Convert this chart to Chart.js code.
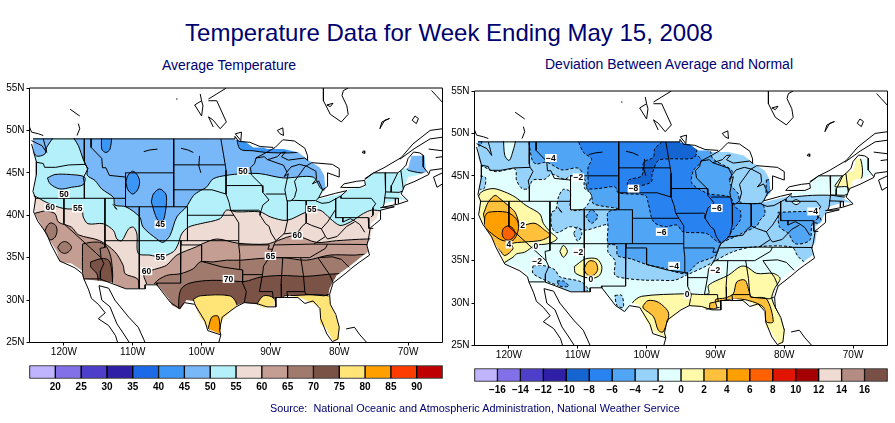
<!DOCTYPE html>
<html>
<head>
<meta charset="utf-8">
<script src="https://cdn.jsdelivr.net/npm/chart.js@4"></script>
<style>
  html, body { margin: 0; padding: 0; background: #fff; width: 895px; height: 423px; overflow: hidden; }
  canvas { position: absolute; }
  .txt { position: absolute; font-family: "Liberation Sans", Arial, sans-serif; color: #000070; white-space: pre; line-height: 1; }
</style>
</head>
<body>
<div class="txt" style="left:0;width:898px;top:21px;text-align:center;font-size:24px">Temperature Data for Week Ending May 15, 2008</div>
<div class="txt" style="left:162px;top:58px;font-size:14px">Average Temperature</div>
<div class="txt" style="left:545px;top:57px;font-size:14px">Deviation Between Average and Normal</div>
<canvas id="mapTemp" width="447" height="285" style="left:0;top:80px"></canvas>
<canvas id="mapDev" width="447" height="285" style="left:445px;top:83px"></canvas>
<canvas id="barTemp" width="447" height="40" style="left:0;top:360px"></canvas>
<canvas id="barDev" width="447" height="40" style="left:445px;top:363px"></canvas>
<div class="txt" style="left:270px;top:403px;font-size:10.85px">Source:  National Oceanic and Atmospheric Administration, National Weather Service</div>
<script>
// axis ticks
const lonTicks = [-120, -110, -100, -90, -80, -70];
const latTicks = [25, 30, 35, 40, 45, 50, 55];

// colour bars
const tempLevels = [20, 25, 30, 35, 40, 45, 50, 55, 60, 65, 70, 75, 80, 85, 90];
const tempColors = ['#c0b4ff', '#8270e8', '#4e3fca', '#2e1fa6', '#1c6ae8', '#3c96f6', '#78b8f8', '#b4f0fa',
  '#eedcd4', '#c49e92', '#a07a6c', '#7a5246', '#ffe478', '#ffa000', '#ff3c00', '#c00000'];
const devLevels = [-16, -14, -12, -10, -8, -6, -4, -2, 0, 2, 4, 6, 8, 10, 12, 14, 16];
const devColors = ['#c0b4ff', '#8270e8', '#4e3fca', '#2e1fa6', '#1464d2', '#2882f0', '#50a5f5', '#96d2fa', '#e1ffff',
  '#fffaaa', '#ffc03c', '#ffa000', '#ff6000', '#e11400', '#a50000', '#f0dcd2', '#b48c82', '#785046'];

// outline of the shaded area, lon,lat pairs
const usMask = [-124.5,49.1, -95.2,49.02, -95,48.9, -93.7,48.7, -92.5,48, -91,48, -90.5,47.8, -88.1,47.8, -85.9,47.4,
  -84.5,46.5, -82.8,45.6, -82.2,44.7, -82,43.1, -82.8,42.3, -83,41.9, -80.9,42.3, -78.9,42.7, -78.7,43.1, -76.3,43.3,
  -76,44.3, -75.3,45, -71.2,45, -71,45.5, -70,45.5, -69.5,47, -67.6,47, -67.4,45.1, -68.8,44.7, -70,44.5, -70.7,42.9,
  -71.4,42.3, -70,41.8, -71.2,41.9, -73.4,41.4, -73.8,40.8, -74.3,40.2, -74.6,39.6, -75.5,39, -75.3,38.2, -75.5,37.2,
  -76,36.6, -75.8,35.7, -76.8,35.1, -78,34.3, -79,33.7, -80.4,32.9, -81.4,31.4, -81.6,30.6, -80.9,28.8, -79.9,26.8,
  -80.1,25.3, -80.9,25.2, -82,26.8, -82.8,27.2, -82.8,29.2, -83.8,29.6, -85.7,30.3, -87.2,30.5, -89.4,30.2, -89.4,29.4,
  -91,29.1, -92,29.5, -93.9,29.7, -94.9,29.4, -95.9,28.6, -97.1,27.6, -97.3,26, -99,26.6, -100.2,28, -101.2,29.9,
  -102.2,30, -103.1,28.9, -104.3,29.4, -104.8,30.2, -106,31.4, -106.8,31.9, -108.2,31.9, -108.2,31.4, -111.4,31.4,
  -113.1,32.1, -117.2,32.5, -117.4,33.5, -118.9,34.3, -120.6,34.5, -121,35.7, -122.5,37.6, -123.7,39.4, -124.2,40.2,
  -124.4,42.3, -124.2,44.1, -124,46.1, -124.4,47];

// coasts, lakes and borders, each list one polyline of lon,lat pairs
const coastLines = [
  [-124.7,48.4, -124,46.3, -124,44.8, -124.5,42.8, -124.1,42, -124.4,40.4, -123.8,39.3, -122.5,37.8, -121.9,36.6, -120.6,34.6, -118.4,33.8, -117.3,33.1, -117.1,32.5,
   -116.4,31.2, -116,30.2, -115,29.5, -114,28.5, -115,27.8, -113.5,27, -112.5,25.8, -112.2,25],
  [-114.9,31.7, -114.5,30, -113.3,29.2, -112.3,27.2, -111.3,26, -110.5,25],
  [-114.9,31.7, -113.5,31.4, -112.6,30, -110.6,28, -109.2,26.8, -108.2,25],
  [-80.9,32, -81.4,30.7, -81.3,29.5, -80.5,28.3, -80,26.8, -80.2,25.4, -81,25.1, -81.8,26, -82.7,27.8, -82.8,29, -83.8,29.9, -85,29.6, -86,30.3, -88,30.3, -89.3,30.3, -89.2,29.2,
   -90.5,29.2, -92,29.6, -93.8,29.7, -95,29.2, -97,28, -97.4,26.5, -97.2,25.9, -97.5,25],
  [-80.9,32, -79,33.2, -78,33.9, -77,34.5, -75.6,35.3, -76,36.5, -75.8,37, -75.5,38.5, -74.9,38.9, -74,39.5, -74,40.6, -72,41, -74,40.9, -71.5,41.3, -70,41.7, -71,42.5, -70.5,43.5, -69,44, -67,44.8, -66.8,45.3, -65,45.5],
  [-65,43.7, -65.8,43.3, -66.3,44.5, -65,45],
  // great lakes
  [-92.1,46.75, -90.9,46.9, -90.4,46.55, -89,46.9, -88.4,47.4, -87.8,47.45, -88.4,46.9, -87.4,46.5, -85,46.75, -84.6,46.45, -84.6,47, -85,47.9, -86.5,48.75, -88.2,48.9, -89.3,48, -90.8,47.3, -92.1,46.75],
  [-87.6,41.7, -87,41.7, -86.5,42.1, -86.2,43, -86.5,44, -85.6,45, -85,45.7, -84.8,45.8, -85.8,46, -87,45.7, -87.6,45.1, -88,44.55, -87.4,44.9, -87.7,43.8, -87.9,43, -87.6,41.7],
  [-84.8,45.8, -83.4,45.2, -83.3,44.3, -83.9,43.7, -83,44.05, -82.4,43, -81.7,43.4, -81.7,45, -80,44.5, -80,45.5, -81,46, -84,46.2, -84.8,45.8],
  [-83.4,41.7, -82.5,41.4, -81.5,41.5, -79.8,42.25, -78.9,42.9, -80.5,42.6, -83,42.05, -83.4,41.7],
  [-83,42.05, -82.4,43],
  [-79.8,43.3, -79,43.27, -77,43.28, -76.2,43.55, -76.3,44.1, -77.5,44, -79.3,43.7, -79.8,43.3],
  // st lawrence and gulf
  [-76.3,44.2, -75,45, -73.5,45.6, -71,46.8, -69.3,48.4, -66.8,50, -65,50.2],
  [-71.2,46.6, -69,47.9, -66.8,49, -65,49.2],
  [-67,47.8, -65,47.6], [-66,46.8, -65,46.9],
  // canada
  [-82.3,55, -82.3,53.5, -81.3,51.9, -79.7,51, -78.7,51.9, -78.9,52.9, -79.6,54.1, -79.4,54.7, -78.7,55],
  [-81.8,53, -80.9,53.2, -81.3,52.8, -81.8,53],
  [-100.2,54.3, -100,53.5, -101,53, -100,51.7], [-100,53.5, -99.8,52.9, -100,51.7],
  [-99,53.7, -97.8,54.3, -96.4,55], [-99,53.5, -97.8,53.5, -96.4,51, -97.3,50.2, -98.3,51.2, -99,51.6, -98.3,50.4],
  [-95.1,49.6, -94.2,49.8, -94.3,48.8, -95.1,49.6],
  [-89,50, -88.2,50.3, -88.1,49.4, -88.6,49.6, -89,50],
  [-76.7,47.4, -76.4,47.6, -76.3,47.3, -76.7,47.4],
  [-74.1,50.2, -73.4,51.2, -72.7,51.4, -73.8,51, -74.1,50.2],
  [-69.4,51.2, -69,51.7, -68.5,51.4, -68.8,50.8, -69.4,51.2],
  [-66.6,54.7, -65.9,54.1, -65,53.3],
  [-125,50.4, -124.7,49.8, -123.7,49.6, -123,49.4], [-124.7,48.8, -123.2,48.2, -122.5,47.4, -122.8,48.4, -123,49],
  [-119.1,52.5, -117.7,51.7], [-117.9,50.8, -117.7,50.2, -118.1,49.4],
  [-103.7,53.7, -103.5,53.7],
  // dammed rivers and inland lakes
  [-108.4,47.5, -107.5,47.7, -106.4,47.8], [-103,47.9, -102,47.7, -101.2,47.4],
  [-100.3,47, -100.4,45.8, -100.1,45], [-112.9,41.3, -112.3,40.7, -112.7,41],
  // bahamas
  [-79,26.6, -77.8,26.8, -77,25.9, -76,25]
];
const stateLines = [
  [-124.5,49, -95.15,49, -95.15,49.3, -94.6,48.7, -93,48.6, -91.5,48.1, -89.6,48],
  [-124,46.25, -123,46.1, -122.8,45.65, -121.2,45.65, -119.3,45.93, -116.92,46],
  [-117.03,49, -117.04,46.4, -116.92,46, -116.5,45.5, -117.2,44.4, -117.03,43.8, -117.03,42],
  [-124.2,42, -111.05,42],
  [-120,42, -120,39, -114.6,35, -114.2,34.3, -114.7,33.4, -114.7,32.5],
  [-114.04,42, -114.04,36.2, -114.75,36.1, -114.6,35],
  [-116.05,49, -116.05,48, -114.5,46.7, -114.4,45.6, -113.9,45.6, -113.4,44.7, -111.05,44.5],
  [-111.05,45, -104.05,45],
  [-111.05,45, -111.05,41, -102.05,41],
  [-104.05,49, -104.05,41],
  [-104.05,45.94, -96.56,45.94],
  [-104.05,43, -98.5,43, -96.45,42.5],
  [-102.05,41, -102.05,40, -95.3,40],
  [-109.05,41, -109.05,31.33], [-102.05,40, -102.05,37],
  [-114.04,37, -94.6,37],
  [-103,37, -103,36.5, -100,36.5, -100,34.56, -97,33.9, -94.5,33.6, -94.45,35.4, -94.6,36.5, -94.6,39.1, -95.3,40],
  [-103,36.5, -103.05,32, -106.6,32, -106.5,31.8, -108.2,31.8, -108.2,31.33, -111,31.33, -114.8,32.5, -117.1,32.5],
  [-106.5,31.8, -104.5,29.7, -103.2,29, -102.5,29.7, -101,29.5, -99.5,27.5, -99.1,26.4, -97.2,25.9],
  [-94.5,33.6, -94.04,33.55, -94.04,32, -93.5,31, -93.8,29.7],
  [-94.04,33, -91.15,33], [-94.6,36.5, -90.15,36.5, -90.37,36, -89.7,36],
  [-89.7,36, -90.1,35.1, -91,34, -91.15,33, -91.6,31, -89.7,31, -89.6,30.2],
  [-96.45,43.5, -91.2,43.5], [-97.2,49, -96.56,45.94, -96.45,45.3, -96.45,42.5, -96,41.5, -95.77,40.58, -95.3,40],
  [-95.77,40.58, -91.7,40.6, -91.4,40.4],
  [-92.1,46.75, -92.3,46.1, -92.9,45.6, -92.75,44.75, -91.2,43.5, -91.1,42.7, -90.2,41.8, -91.1,41.2, -91.4,40.4, -91.5,40, -90.7,39, -90.2,38.7, -89.9,37.9, -89.2,37, -89.5,36.5, -89.7,36],
  [-90.65,42.5, -87.8,42.5], [-90.4,46.55, -88.1,45.9, -87.6,45.1],
  [-87.53,41.7, -87.53,39.3, -87.9,38, -88.05,37.8], [-89.2,37, -88.05,37.8, -87,37.9, -86,38, -85.4,38.7, -84.8,39.1, -84,38.8, -82.6,38.4, -81.7,39.2, -80.6,40.6],
  [-84.8,41.7, -84.8,39.1], [-87,41.76, -84.8,41.72, -83.45,41.73],
  [-80.52,42, -80.52,39.72, -75.8,39.72], [-79.76,42.25, -79.76,42, -75.35,42, -74.7,41.36, -75.1,40.9, -75.1,40, -75.4,39.8],
  [-79.48,39.72, -79.48,39.2, -78.4,39.6, -77.7,39.3, -77,38.9, -76.3,38],
  [-77.8,39.2, -78.9,38.7, -80.3,37.5, -81.7,37.2, -82,37.5], [-82.6,38.4, -82,37.5, -83.68,36.6],
  [-89.5,36.5, -83.68,36.6, -75.9,36.55], [-90.3,35, -84.3,35, -82,36.1, -81.7,36.6],
  [-83.1,35, -81,35.1, -79.7,34.8, -78.55,33.85], [-83.1,35, -81.4,33, -80.9,32.05],
  [-85.6,35, -85.2,32.9, -85,31, -84.9,30.7, -82.2,30.5, -81.5,30.7], [-88.2,35, -88.45,31.9, -88.4,30.3], [-87.6,31, -85,31], [-87.6,31, -87.5,30.3],
  [-73.35,45, -73.25,43.6, -73.3,42.75, -73.5,41.3, -73.65,41], [-73.3,42.75, -71.3,42.7, -70.8,42.85], [-73.5,42.05, -71.4,42, -71.4,41.4], [-71.8,42, -71.85,41.3],
  [-71.5,45, -72.4,43.5, -72.46,42.73], [-71.05,45.3, -70.7,43.1],
  [-75.8,39.72, -75.7,38.46, -75.05,38.45],
  [-76.3,44.3, -75,45, -71.5,45, -71,45.3, -70.3,45.9, -70,46.7, -69.2,47.45, -68.3,47.35, -67.8,47.07, -67.8,45.7, -67,44.9]
];

// average temperature contours, lon,lat pairs
const tempBelow55 = [-126,42.4, -124.4,42.3, -122.5,41.5, -120.1,40.8, -117.4,40.6, -117.2,39.8, -116.5,39, -114.3,39, -112.8,38.2, -112.3,37.2, -111.6,37, -110.6,38.4, -109.9,38.6, -109.4,37.8, -109.2,35.5, -107.5,35.3, -106,35.1, -104.1,35.7, -103.4,36.6, -102.9,37.8, -101.9,38.6, -100.2,39, -97.3,39.6, -96.4,40.6, -94.9,40.4, -91.5,40.4, -90,39.8, -87.6,39.4, -84.7,40.4, -82.8,40.6, -81.3,39.6, -79.9,38.8, -78.4,39.2, -76.5,40.2, -75.3,40.6, -73.6,40.5, -60,40.5, -60,60, -126,60];
const tempBelow50 = [-118.5,49, -117.9,48.2, -117.2,46.6, -116.6,45.5, -116.6,44.7, -115.5,44.1, -114.5,43.1, -112.8,42.1, -112.6,41.2, -111,41, -109,39.8, -108.5,38.6, -106.5,37.2, -105.6,36.8, -104.6,37.6, -103.6,39.8, -102.2,41, -101.2,42.3, -100.2,42.9, -99.3,43.3, -98.3,44.3, -96.4,44.7, -94,44.9, -91.5,44.9, -88.1,44.4, -83.8,44.5, -82.6,43.1, -81.5,43, -80,45, -80,60, -118.5,60];
const tempBelow50Wa = [-124.5,49.5, -121.5,49.5, -122.5,48, -122.8,47.2, -124,47, -125,48.4];
const tempBelow50Or = [-122.4,44.4, -121.3,44.8, -119.1,44.8, -117,44.5, -117.2,43.6, -118.9,43.3, -120.6,43.1, -122,43.7];
const tempBelow50Me = [-69.5,47.5, -66.5,47.5, -66.5,45.1, -70,45.3, -70.1,45.9];
const tempBelow45Mt = [-114.5,49.6, -113.2,49.6, -113.3,47.8, -113.9,47.4, -114.5,47.8];
const tempBelow45Wy = [-111,43.9, -110.7,44.7, -110,45.2, -109.3,44.7, -109,43.9, -109.3,43, -110,42.5, -110.7,43];
const tempBelow45Co = [-107.3,41.6, -107,42.5, -106.1,43.1, -105.2,42.5, -105.1,41.5, -105.3,40.2, -105.6,39.4, -106.3,39.4, -106.8,40.2];
const tempBelow45Mn = [-95,49.5, -94.4,47.8, -92.5,47.6, -90.6,47.4, -86.2,47.4, -85.7,47.8, -88.1,48.3, -92.5,49, -94.4,49.5];
const tempAbove60 = [-130,39, -123.4,40.4, -122.7,40.5, -121.3,40.2, -120.8,39.2, -118.9,38.6, -117.9,37.7, -114.8,37, -112.6,35.7, -111.4,34.1, -111.1,33.1, -109.3,32.5, -109.1,31.4, -109.1,30.4, -108,30.4, -108,31.9, -108.4,32.9, -108,33.3, -106.5,33.7, -105.1,34.1, -103.6,35.3, -100.7,36.3, -100,36.6, -97.8,37.2, -94.7,36.7, -90.5,36.6, -89,37, -86.4,37.6, -83.3,36.8, -80.4,37, -76,37.2, -70,37.2, -70,20, -130,20];
const tempAbove65Ca1 = [-122.8,38.1, -122.4,38.8, -121.9,39.1, -121.2,38.8, -121,38.1, -121.3,37.4, -121.9,37.1, -122.4,37.4];
const tempAbove65Ca2 = [-120.9,36.2, -120.5,36.7, -119.9,36.9, -119.3,36.7, -118.9,36.2, -119.3,35.7, -119.9,35.5, -120.5,35.7];
const tempAbove65Az = [-117.3,36.6, -116.2,36.8, -114.8,36.8, -113.8,36.3, -113.1,34.7, -113.1,31.8, -114.8,31.6, -117.2,31.6, -117.3,33.7];
const tempAbove65 = [-106.8,31, -106.8,32, -105.1,32.9, -103.1,33.1, -101.2,33.7, -100.2,34.5, -98.3,34.5, -96.4,34.7, -94.4,34.7, -91.5,34.9, -88.1,35, -84.8,34.7, -81.4,35.3, -78,35.3, -75,35.3, -70,33, -70,20, -106.8,20];
const tempAbove70Az = [-116.1,34.5, -114.5,34.9, -113.5,34.7, -113.1,33.7, -113.1,31.6, -114.8,31.6, -115.2,33.1, -116.1,33.9];
const tempAbove70 = [-103.3,28, -103.3,30.2, -102.9,31.4, -101.7,32, -99.3,32.3, -96.4,32.3, -93.7,32.2, -91.5,32.7, -88.4,32.9, -84.8,32.8, -80.4,33.1, -70,33.1, -70,20, -103.3,20];
const tempAbove75Tx = [-101.2,30.1, -100.2,30.5, -95.9,30.5, -94.9,29.5, -94.4,25.7, -98.3,24.9, -99.7,26.8, -100.7,28.8];
const tempAbove75La = [-92,29.5, -91,30.5, -89.6,30.3, -89.3,29.4, -91,29];
const tempAbove75Fl = [-88,30.5, -81.6,30.5, -80.9,29.2, -79,24.9, -83.3,24.9, -84.3,29.2, -88,30.3];
const tempAbove80Tx = [-99,26.8, -98.5,28, -97.6,28.1, -97.3,26.8, -97,25.9, -97.8,26, -99,26.6];

// deviation contours, lon,lat pairs
const devBelow2 = [-130,46.4, -124.2,46.2, -122,45.5, -119.1,45.8, -118.9,44.5, -118.1,43.5, -117.2,43.5, -116.5,44.5, -114.8,44.6, -113.8,45.2, -111.9,44.6, -111,45, -109.2,45, -109,43.5, -108,42.9, -108.5,41.7, -109.2,41.1, -111,41, -111.1,43.1, -112.1,43.4, -112.8,42.5, -113.2,41, -113.8,40.7, -113.8,39, -113,38.3, -111.1,39, -108.9,38.6, -107,39, -105.6,39.2, -105.6,37, -105.6,36, -104.6,35, -104.6,33.3, -102.9,32.9, -100.2,32.7, -98.3,32.7, -95.9,32.7, -94.2,33.3, -91.5,34.3, -90,35, -87.6,36, -84.7,36.6, -78.9,36.6, -78,35.5, -76.8,34.8, -70,35, -60,40, -60,60, -130,60];
const devBelow2Az = [-116.5,34.4, -114.8,34.4, -113.3,33.9, -112.6,33.1, -109.5,32.5, -108.5,31.5, -111.4,31.3, -112.8,32, -114.5,32.6, -116.5,33.5];
const devBelow2Tx = [-104.6,30.9, -103.6,30.9, -103.4,29.5, -104.3,29.7];
const devBelow2Or = [-124.2,45, -123.4,44.8, -123.6,43.5, -124.4,43.5];
const devBelow2Ut = [-110.6,38.2, -110,39, -109.4,38.2, -110,37.3];
const devAbove2Wa = [-120.8,49.5, -119.1,49.5, -119.6,47.4, -120,46.8, -120.6,47.4];
const devAbove2Ne = [-79,42.5, -75.9,42.7, -73.1,42.7, -71,42.5, -69.2,42.9, -64,44, -64,50, -70.5,48.4, -76,45.2, -79,43.9];
const devAbove2Pa = [-78.9,41.9, -78.3,42.2, -77.7,41.9, -78.3,41.6];
const devBelow4 = [-117.2,49.5, -116.6,46.8, -116,46.4, -114.5,46.6, -112.3,45.7, -109.9,45.9, -109,44.6, -108.6,43.5, -108,42.7, -107.7,41.7, -104.1,41.1, -105.6,40.7, -105.6,39, -105.6,37, -104.4,36.8, -104.2,35.6, -102.2,35.2, -99.8,34.5, -97.4,34.1, -96,33.7, -94.2,33.5, -92.6,34.7, -90,35.6, -89.2,37, -87.2,37.8, -85.7,38.4, -84,39.1, -83.5,39.8, -82.8,40.5, -83.2,41.7, -84.7,41.7, -86.4,41.9, -86.7,42.9, -87.9,44.1, -87.6,45.6, -90.6,47.4, -90.6,60, -117.2,60];
const devBelow4Pa = [-80.9,40.7, -76.8,40.8, -75.3,40.7, -74.6,39.4, -75.9,39.4, -76.3,37.4, -78.4,37, -79.4,38.2, -80.7,39];
const devBelow4Mi = [-82.6,44.5, -82.1,44.5, -82.1,42.7, -82.6,42.7];
const devBelow4Co = [-108.8,40.2, -108,41, -107.1,40.2, -108,39.4];
const devBelow4Az = [-113,32.6, -112.1,32.6, -111.3,32, -112.6,32];
const devBelow4Wa = [-125,49.5, -124,49.5, -124.1,48.6, -125,48.6];
const devBelow6 = [-110.1,49.5, -109.2,47.8, -108,47, -108.5,46, -108.5,44.1, -108.7,43.5, -107,43.5, -104.6,43.7, -104.1,43, -100.2,42.7, -99.8,41.9, -99,39.6, -97.3,39, -95.6,39.2, -94.7,38.4, -91.3,38.2, -89.6,37.2, -88.6,37.4, -87.5,38.6, -86.4,39.8, -86.4,40.9, -87.1,41.3, -87.9,42.5, -91,42.9, -93.4,44.1, -93.2,45.6, -92,46.8, -93,47.8, -93,49.5];
const devBelow8 = [-97,49.5, -93,49.5, -92.7,48, -93.2,47.1, -96.8,47, -98.3,46.8, -99.2,45.2, -99.3,44.3, -101,43.8, -102.7,43.6, -102.6,44.5, -100.7,45, -100.4,46.6, -99,47.2, -98.8,48.2];
const devAbove0Ca = [-124.7,42.1, -124,43.1, -122.3,43.5, -120.6,43.1, -119.1,42.5, -117.5,41.5, -115.5,40.5, -115,39.4, -114,38.4, -113,37.6, -114.3,37, -116.2,36.8, -117.7,36, -118.9,35.8, -119.4,35.4, -120.6,34.8, -121,34.4, -123,35.4, -125,37, -126,42];
const devAbove0Nm = [-110.5,34.3, -108.9,35.2, -107.2,35.2, -106.5,34.3, -106.8,33.3, -108,32.9, -110.3,33.5];
const devAbove0Ut = [-112.6,36.1, -112.1,36.8, -111.5,36.1, -112.1,35.4];
const devAbove0Me = [-72.6,43.9, -71.7,44.9, -71,45.6, -69.2,47.4, -68.7,44.9, -70.6,43.3, -70.8,43.7, -72.6,43.7];
const devAbove0Se = [-102,29.5, -102,30.1, -100.7,30.8, -94.4,31.1, -91,31.1, -91,32.1, -88.1,33.3, -86.4,34.3, -85.5,34.3, -84,33.5, -81.6,33.5, -80.6,32.9, -81.4,31.7, -81.8,30.5, -80.4,28, -79.4,24.5, -82.8,24.5, -84.3,29.2, -95.4,28.4, -97.3,24.5, -101.7,28];
const devAbove2Ca = [-123.7,40.5, -123,41.9, -122,42.7, -121.3,42.3, -120.1,41.5, -119.1,40.7, -118.6,39.6, -118.4,39, -117.7,39.2, -116.2,39.4, -114.8,38.6, -114,38, -115.3,37.4, -117.7,37.2, -119.6,37, -119.4,36.4, -120.6,35.6, -121.3,36.2, -122.8,37.4, -123.2,38.6];
const devAbove2Nm = [-109.1,34, -108.6,34.8, -108.1,35, -107.4,34.8, -107.1,34, -107.5,33.4, -108.1,33.2, -108.7,33.4];
const devAbove2Tx = [-100.5,29.7, -99.8,30.3, -98.3,30.1, -96.8,28.8, -97.6,26.6, -98.3,26.8, -99,28.4, -100.5,29.4];
const devAbove2Gulf = [-90.8,30, -90.8,29.4, -89.8,29.4, -90,30.4, -88.6,30.6, -87.4,31.1, -86.9,32.5, -85.7,32.7, -85,31.1, -84.7,30.7, -82.6,30.5, -81.6,27.8, -82.6,27.8, -83,29.5, -85.7,30.4, -88.1,30.4];
const devAbove4Ca = [-123.5,40.2, -123,40.7, -120.3,40.7, -118.9,39.9, -118.6,38.8, -119.4,37.4, -121,37.4, -122.5,38.2, -123.5,39];
const devAbove6Ca = [-121,38.2, -120.8,38.8, -120.1,39.1, -119.4,38.8, -119.1,38.2, -119.4,37.7, -120.1,37.4, -120.8,37.7];

// contour labels: lon, lat, text
const tempLabels = [[-120,42.5,'50'], [-94,45.2,'50'], [-122,40.9,'60'], [-118,40.8,'55'], [-84,40.7,'55'], [-106,38.9,'45'],
  [-86.1,37.6,'60'], [-106,35.1,'55'], [-90,35.2,'65'], [-108,33.4,'60'], [-96.1,32.5,'70']];
const devLabels = [[-113.9,47.1,'−4'], [-109.9,44.8,'−2'], [-101.9,43.5,'−8'], [-89.8,41.2,'−6'], [-75.8,40.8,'−4'], [-118,39.2,'2'],
  [-120,36.9,'4'], [-116.1,36.7,'0'], [-109.9,36,'−2'], [-115.9,34.9,'−2'], [-108.1,32.8,'0'], [-96,34.4,'−4'], [-90,33.9,'−2'], [-94.1,31,'0'], [-97.8,38.4,'−6']];

// painter's order, coldest/warmest nests last
const tempLayers = [
  [tempBelow55, 7], [tempBelow50, 6], [tempBelow50Wa, 6], [tempBelow50Or, 6], [tempBelow50Me, 6],
  [tempBelow45Mt, 5], [tempBelow45Wy, 5], [tempBelow45Co, 5], [tempBelow45Mn, 5],
  [tempAbove60, 9], [tempAbove65Ca1, 10], [tempAbove65Ca2, 10], [tempAbove65Az, 10], [tempAbove65, 10],
  [tempAbove70Az, 11], [tempAbove70, 11], [tempAbove75Tx, 12], [tempAbove75La, 12], [tempAbove75Fl, 12], [tempAbove80Tx, 13]
];
const devLayers = [
  [devBelow2, 7], [devAbove2Wa, 8], [devAbove2Ne, 8], [devAbove2Pa, 8], [devBelow2Az, 7], [devBelow2Tx, 7], [devBelow2Or, 7], [devBelow2Ut, 7],
  [devBelow4, 6], [devBelow4Pa, 6], [devBelow4Mi, 6], [devBelow4Co, 6], [devBelow4Az, 6], [devBelow4Wa, 6],
  [devBelow6, 5], [devBelow8, 4],
  [devAbove0Ca, 9], [devAbove0Nm, 9], [devAbove0Ut, 9], [devAbove0Me, 9], [devAbove0Se, 9],
  [devAbove2Ca, 10], [devAbove2Nm, 10], [devAbove2Tx, 10], [devAbove2Gulf, 10], [devAbove4Ca, 11], [devAbove6Ca, 12]
];

const FONT = '"Liberation Sans", Arial, sans-serif';

function toPoints(flat) {
  const pts = [];
  for (let i = 0; i < flat.length; i += 2) pts.push({ x: flat[i], y: flat[i + 1] });
  return pts;
}

function area(flat, color, extra) {
  return Object.assign({
    data: toPoints(flat), showLine: true, fill: 'shape', backgroundColor: color,
    borderWidth: 0, pointRadius: 0, tension: 0
  }, extra);
}

function line(flat, extra) {
  return Object.assign({
    data: toPoints(flat), showLine: true, fill: false, borderColor: '#000',
    borderWidth: 1, pointRadius: 0, tension: 0
  }, extra);
}

// white sheet with a us-shaped hole, hides whatever spills over the coast
function maskData() {
  const hole = [];
  for (let i = usMask.length - 2; i >= 0; i -= 2) hole.push(usMask[i], usMask[i + 1]);
  return [-127,57, -63,57, -63,23, -127,23, -127,57, usMask[0],usMask[1]].concat(hole, [usMask[0],usMask[1], -127,57]);
}

const contourLabels = {
  id: 'contourLabels',
  afterDatasetsDraw(chart, args, opts) {
    const { ctx, scales: { x, y } } = chart;
    ctx.save();
    ctx.font = 'bold 8.5px ' + FONT;
    ctx.textAlign = 'center';
    ctx.textBaseline = 'middle';
    opts.items.forEach(([lon, lat, text]) => {
      const px = x.getPixelForValue(lon);
      const py = y.getPixelForValue(lat);
      const w = ctx.measureText(text).width + 2;
      ctx.fillStyle = '#fff';
      ctx.fillRect(px - w / 2, py - 4, w, 8);
      ctx.fillStyle = '#000';
      ctx.fillText(text, px, py + 0.5);
    });
    ctx.restore();
  }
};

function mapChart(id, layers, colors, baseColor, labels, dashNegative) {
  const datasets = [];
  datasets.push(area([-127,57, -63,57, -63,23, -127,23], baseColor));
  layers.forEach(([flat, bin]) => {
    const closed = flat.concat([flat[0], flat[1]]);
    const dash = dashNegative && bin < 8 ? [3, 2] : [];
    datasets.push(area(closed, colors[bin], { borderColor: '#000', borderWidth: 1, tension: 0.3, borderDash: dash }));
  });
  datasets.push(area(maskData(), '#fff'));
  coastLines.concat(stateLines).forEach(l => datasets.push(line(l)));
  datasets.push(line([-125,25, -65,25, -65,55, -125,55, -125,25], { clip: false }));
  // chart.js paints the first dataset last
  datasets.reverse();

  return new Chart(document.getElementById(id), {
    type: 'scatter',
    data: { datasets },
    plugins: [contourLabels],
    options: {
      responsive: false,
      animation: false,
      devicePixelRatio: 1,
      layout: { padding: { top: 7.5, right: 4.5 } },
      plugins: { legend: { display: false }, tooltip: { enabled: false }, contourLabels: { items: labels } },
      scales: {
        x: {
          type: 'linear', min: -125, max: -65,
          afterBuildTicks: a => { a.ticks = lonTicks.map(v => ({ value: v })); },
          afterFit: a => { a.height = 22.5; },
          grid: { drawOnChartArea: false, color: '#000', tickLength: 3 },
          border: { display: false },
          ticks: { color: '#000', font: { family: FONT, size: 10 }, padding: 1, maxRotation: 0, autoSkip: false, callback: v => Math.abs(v) + 'W' }
        },
        y: {
          type: 'linear', min: 25, max: 55,
          afterBuildTicks: a => { a.ticks = latTicks.map(v => ({ value: v })); },
          afterFit: a => { a.width = 29.5; },
          grid: { drawOnChartArea: false, color: '#000', tickLength: 3 },
          border: { display: false },
          ticks: { color: '#000', font: { family: FONT, size: 10 }, padding: 2, autoSkip: false, callback: v => v + 'N' }
        }
      }
    }
  });
}

function colorBar(id, levels, colors) {
  const step = levels[1] - levels[0];
  const edges = [levels[0] - step].concat(levels, [levels[levels.length - 1] + step]);
  return new Chart(document.getElementById(id), {
    type: 'bar',
    data: {
      labels: [''],
      datasets: colors.map((c, i) => ({
        data: [[edges[i], edges[i + 1]]], backgroundColor: c, borderColor: '#000', borderWidth: 1,
        borderSkipped: false, grouped: false, barPercentage: 1, categoryPercentage: 1, clip: false
      }))
    },
    options: {
      indexAxis: 'y',
      responsive: false,
      animation: false,
      devicePixelRatio: 1,
      layout: { padding: { top: 5.5, left: 29.5, right: 4.5 } },
      plugins: { legend: { display: false }, tooltip: { enabled: false } },
      scales: {
        x: {
          type: 'linear', min: edges[0], max: edges[edges.length - 1],
          afterBuildTicks: a => { a.ticks = levels.map(v => ({ value: v })); },
          afterFit: a => { a.height = 21.5; },
          grid: { display: false, drawTicks: false },
          border: { display: false },
          ticks: {
            color: '#000', font: { family: FONT, size: 10, weight: 'bold' }, padding: 3, maxRotation: 0, autoSkip: false,
            callback: v => String(v).replace('-', '−')
          }
        },
        y: { display: false }
      }
    }
  });
}

mapChart('mapTemp', tempLayers, tempColors, tempColors[8], tempLabels, false);
mapChart('mapDev', devLayers, devColors, devColors[8], devLabels, true);
colorBar('barTemp', tempLevels, tempColors);
colorBar('barDev', devLevels, devColors);
</script>
</body>
</html>
